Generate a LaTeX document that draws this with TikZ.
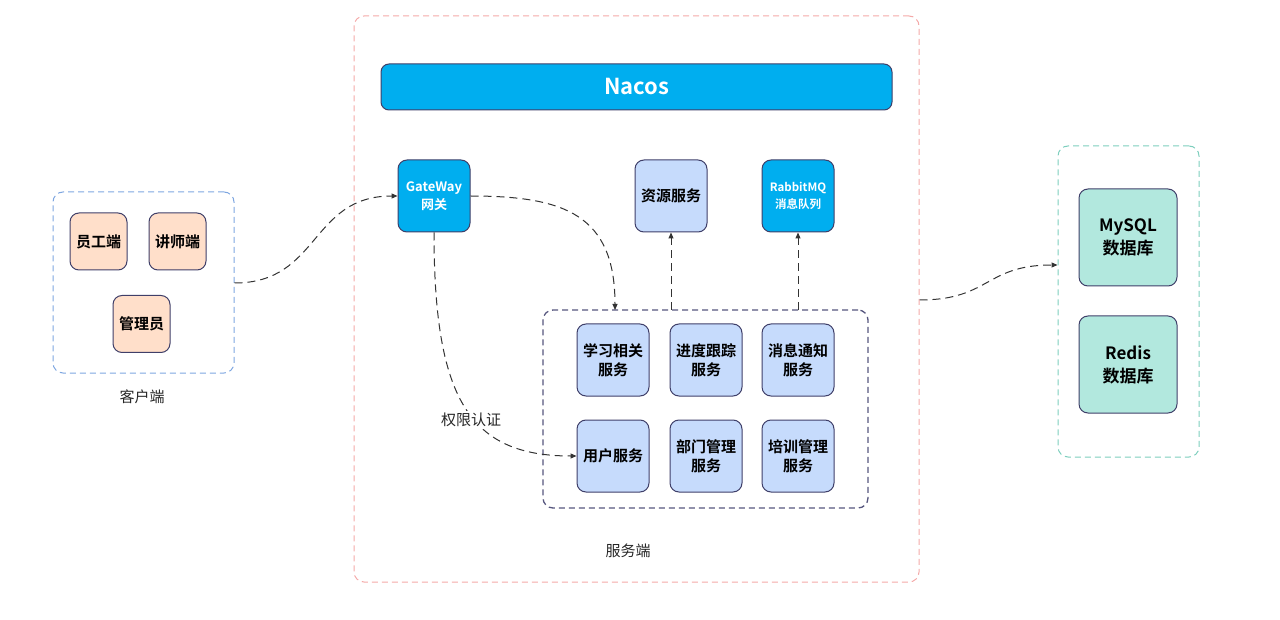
\documentclass[tikz,border=0pt]{standalone}
\usepackage{fontspec}
\setmainfont{Noto Sans CJK SC}[BoldFont={Noto Sans CJK SC Bold}]
\usetikzlibrary{arrows.meta}
\definecolor{bluefill}{HTML}{00AEEF}
\definecolor{lightblue}{HTML}{C6DBFC}
\definecolor{peach}{HTML}{FFDFCA}
\definecolor{tealfill}{HTML}{B2E8DE}
\definecolor{boxline}{HTML}{3F3F69}
\definecolor{clientdash}{HTML}{7EA6E0}
\definecolor{serverdash}{HTML}{F4A9A8}
\definecolor{innerdash}{HTML}{56567E}
\definecolor{dbdash}{HTML}{7DCEBD}
\definecolor{linkc}{HTML}{333333}
\tikzset{
  box/.style={draw=boxline, line width=1pt, rounded corners=9pt, inner sep=0pt, align=center, font=\bfseries\fontsize{15}{19}\selectfont},
  svc/.style={box, fill=lightblue, minimum width=72pt, minimum height=72pt},
  cli/.style={box, fill=peach, minimum width=57pt, minimum height=57pt},
  db/.style={box, fill=tealfill, minimum width=98pt, minimum height=97pt, font=\bfseries\fontsize{17}{23}\selectfont},
  bluebox/.style={box, fill=bluefill, text=white},
  grp/.style={line width=1pt, dash pattern=on 6pt off 4pt, rounded corners=10pt, inner sep=0pt},
  lbl/.style={font=\fontsize{15}{18}\selectfont, text=black!85},
  link/.style={draw=linkc, line width=1pt, dash pattern=on 8pt off 5pt, -{Triangle[length=6pt,width=5pt]}},
}
\begin{document}
\begin{tikzpicture}[x=1pt,y=-1pt]
\useasboundingbox (0,0) rectangle (1280,620);
% groups
\node[grp, draw=serverdash, minimum width=565pt, minimum height=566pt] (server) at (636.5,299) {};
\node[grp, draw=clientdash, minimum width=181pt, minimum height=181pt] (client) at (143.5,282.5) {};
\node[grp, draw=dbdash, minimum width=141pt, minimum height=311pt] (dbgrp) at (1128.5,301.5) {};
\node[grp, draw=innerdash, line width=1.3pt, minimum width=325pt, minimum height=198pt] (inner) at (705.5,409) {};
% labels
\node[lbl] (clientlbl) at (142,397) {客户端};
\node[lbl] (serverlbl) at (628,551) {服务端};
% client nodes
\node[cli] (yg) at (98.5,241.5) {员工端};
\node[cli] (js) at (177.5,241.5) {讲师端};
\node[cli] (gl) at (141.5,324) {管理员};
% nacos
\node[bluebox, rounded corners=8pt, minimum width=511pt, minimum height=46pt, font=\bfseries\fontsize{22}{26}\selectfont] (nacos) at (636.5,87) {Nacos};
% top row
\node[bluebox, minimum width=72pt, minimum height=72pt, font=\bfseries\fontsize{13}{18}\selectfont] (gw) at (434,196) {GateWay\\网关};
\node[svc] (zy) at (671,196) {资源服务};
\node[bluebox, minimum width=72pt, minimum height=72pt, font=\bfseries\fontsize{11.5}{17}\selectfont] (mq) at (798,196) {RabbitMQ\\消息队列};
% services
\node[svc] (xx) at (613,360) {学习相关\\服务};
\node[svc] (jd) at (706,360) {进度跟踪\\服务};
\node[svc] (xt) at (798,360) {消息通知\\服务};
\node[svc] (yh) at (613,456) {用户服务};
\node[svc] (bm) at (706,456) {部门管理\\服务};
\node[svc] (px) at (798,456) {培训管理\\服务};
% databases
\node[db] (mysql) at (1128,237.5) {MySQL\\数据库};
\node[db] (redis) at (1128,364.5) {Redis\\数据库};
% connectors
\coordinate (c1) at (client.east |- 0,283);
\draw[link] (c1) .. controls (320,283) and (310,196) .. (gw.west);
\coordinate (inTop1) at (615,310);
\draw[link] (gw.east) .. controls (565,196) and (615,215) .. (inTop1);
\draw[link] (gw.south) .. controls (434,400) and (470,456) .. (yh.west);
\node[fill=white, inner sep=2pt, lbl] (auth) at (471,420) {权限认证};
\coordinate (inTop2) at (671,310);
\coordinate (inTop3) at (798,310);
\draw[link] (inTop2) -- (zy.south);
\draw[link] (inTop3) -- (mq.south);
\coordinate (s1) at (server.east |- 0,300);
\coordinate (d1) at (dbgrp.west |- 0,265);
\draw[link] (s1) .. controls (990,300) and (985,265) .. (d1);
\end{tikzpicture}
\end{document}
